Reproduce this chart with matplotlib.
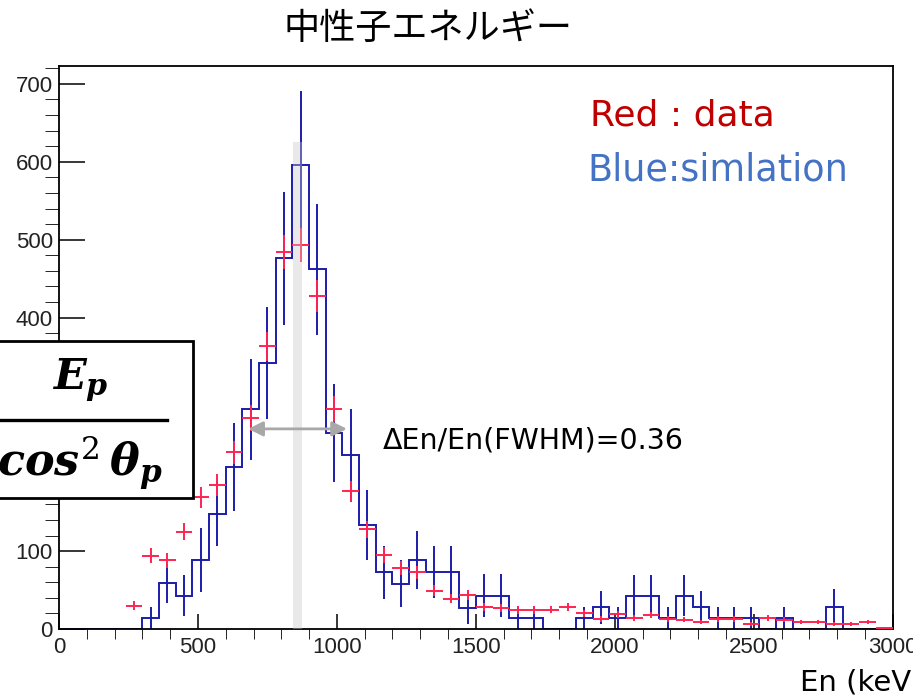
import matplotlib
matplotlib.use("Agg")
import matplotlib.pyplot as plt
import numpy as np
from matplotlib.lines import Line2D
from matplotlib.patches import Rectangle

# 60 keV bins from 0 to 3000 keV
BIN_WIDTH = 60
BIN_EDGES = np.arange(0, 3001, BIN_WIDTH)

# blue: simulation (histogram + error bars)
SIM_COUNTS = [
    0, 0, 0, 0, 0,
    14, 59, 43, 89, 148,
    208, 282, 342, 476, 596,
    462, 252, 223, 133, 73,
    58, 89, 73, 73, 27,
    43, 43, 14, 14, 0,
    0, 14, 28, 14, 43,
    43, 14, 43, 28, 14,
    14, 14, 0, 14, 0,
    0, 28, 0, 0, 0,
]
SIM_ERRORS = [
    0, 0, 0, 0, 0,
    14, 25, 26, 41, 42,
    56, 65, 72, 85, 95,
    84, 63, 60, 45, 34,
    30, 37, 33, 33, 21,
    27, 27, 14, 14, 0,
    0, 14, 21, 14, 26,
    26, 14, 26, 21, 14,
    14, 14, 0, 14, 0,
    0, 23, 0, 0, 0,
]

# red: measured data (crosses)
DATA_COUNTS = [
    0, 0, 0, 0, 30,
    94, 88, 125, 169, 185,
    227, 271, 363, 484, 493,
    428, 282, 177, 128, 95,
    78, 73, 49, 39, 44,
    28, 27, 24, 24, 25,
    28, 20, 13, 19, 14,
    18, 13, 12, 9, 13,
    13, 6, 14, 12, 9,
    9, 7, 7, 9, 1,
]
DATA_ERRORS = [
    0, 0, 0, 0, 5.5,
    9.7, 9.4, 11, 13, 13.6,
    15, 16.5, 19, 22, 22,
    20.7, 16.8, 13.3, 11.3, 9.7,
    8.8, 8.5, 7, 6.2, 6.6,
    5.3, 5.2, 4.9, 4.9, 5,
    5.3, 4.5, 3.6, 4.4, 3.7,
    4.2, 3.6, 3.5, 3, 3.6,
    3.6, 2.4, 3.7, 3.5, 3,
    3, 2.6, 2.6, 3, 1,
]

X_MAJOR = [0, 500, 1000, 1500, 2000, 2500, 3000]
Y_MAJOR = [0, 100, 200, 300, 400, 500, 600, 700]
Y_HIDDEN = [200, 300]  # covered by the formula box

TITLE = "中性子エネルギー"
FWHM_TEXT = "ΔEn/En(FWHM)=0.36"
FWHM_RANGE = (681, 1036)
FWHM_LEVEL = 257
PEAK_BAND = (843, 874, 626)

BLUE = "#1c1cab"
RED = "#ff2452"

W, H = 913, 698


def fig_xy(px, py):
    return px / W, 1 - py / H


plt.rcParams["mathtext.fontset"] = "custom"
plt.rcParams["mathtext.rm"] = "DejaVu Serif"
plt.rcParams["mathtext.it"] = "DejaVu Serif:italic:bold"
plt.rcParams["mathtext.bf"] = "DejaVu Serif:italic:bold"

fig = plt.figure(figsize=(W / 100, H / 100), dpi=100)
l, b = fig_xy(59, 629)
r, t = fig_xy(892.7, 66)
ax = fig.add_axes([l, b, r - l, t - b])

sim = np.array(SIM_COUNTS, dtype=float)
sim_err = np.array(SIM_ERRORS, dtype=float)
dat = np.array(DATA_COUNTS, dtype=float)
dat_err = np.array(DATA_ERRORS, dtype=float)
centers = (BIN_EDGES[:-1] + BIN_EDGES[1:]) / 2

ax.stairs(sim, BIN_EDGES, color=BLUE, lw=1.4, zorder=2)
has_sim = sim > 0
ax.errorbar(centers[has_sim], sim[has_sim], yerr=sim_err[has_sim],
            fmt="none", ecolor=BLUE, elinewidth=1.4, capsize=0, zorder=2)

has_dat = dat > 0
ax.errorbar(centers[has_dat], dat[has_dat], yerr=dat_err[has_dat],
            xerr=BIN_WIDTH / 2, fmt="none", ecolor=RED, elinewidth=1.4,
            capsize=0, zorder=3)

# grey band marking the peak position
ax.fill_betweenx([0, PEAK_BAND[2]], PEAK_BAND[0], PEAK_BAND[1],
                 color="#c8c8c8", alpha=0.4, lw=0, zorder=4)

ax.annotate("", xy=(FWHM_RANGE[0], FWHM_LEVEL), xytext=(FWHM_RANGE[1], FWHM_LEVEL),
            arrowprops=dict(arrowstyle="<|-|>", color="#a8a8a8", lw=2,
                            mutation_scale=22, shrinkA=0, shrinkB=0),
            zorder=5)

ax.set_xlim(0, 3000)
ax.set_ylim(0, 723)
ax.set_xticks(X_MAJOR)
ax.set_yticks(Y_MAJOR)
ax.set_yticklabels(["" if v in Y_HIDDEN else str(v) for v in Y_MAJOR])
ax.set_xticks(np.arange(0, 3001, 100), minor=True)
ax.set_yticks(np.arange(0, 721, 20), minor=True)
ax.tick_params(direction="in", width=1.1, labelsize=16, colors="black")
ax.tick_params(axis="y", which="major", length=18.5, pad=4.5)
ax.tick_params(axis="y", which="minor", length=10)
ax.tick_params(axis="x", which="major", length=11, pad=6)
ax.tick_params(axis="x", which="minor", length=7)
for lab in ax.get_xticklabels() + ax.get_yticklabels():
    lab.set_family("Liberation Sans")
    lab.set_color("#222222")
for sp in ax.spines.values():
    sp.set_linewidth(1.3)

fig.text(*fig_xy(428, 29), TITLE, ha="center", va="center", fontsize=26,
         family=["Noto Sans CJK JP", "DejaVu Sans"])
fig.text(*fig_xy(590, 115), "Red : data", ha="left", va="center",
         fontsize=26, color="#c00000")
fig.text(*fig_xy(587, 170), "Blue:simlation", ha="left", va="center",
         fontsize=26.3, color="#4472c4")
fig.text(*fig_xy(383, 441), FWHM_TEXT, ha="left", va="center", fontsize=20.5)
fig.text(*fig_xy(800, 691), "En (keV)", ha="left", va="baseline", fontsize=21)

# formula box on the left edge
bx, by = fig_xy(-10, 498)
bx2, by2 = fig_xy(193, 341)
fig.patches.append(Rectangle((bx, by), bx2 - bx, by2 - by, transform=fig.transFigure,
                             facecolor="white", edgecolor="black", lw=2, zorder=5))
fig.lines.append(Line2D([0, 167 / W], [1 - 420 / H] * 2, transform=fig.transFigure,
                        color="black", lw=2.4, zorder=6))
fig.text(*fig_xy(80, 380), r"$E_p$", ha="center", va="center", fontsize=31, zorder=7)
fig.text(*fig_xy(80, 464), r"$cos^{\mathrm{2}}\,\theta_p$", ha="center", va="center",
         fontsize=32, zorder=7)

fig.savefig("out.png", dpi=100)
